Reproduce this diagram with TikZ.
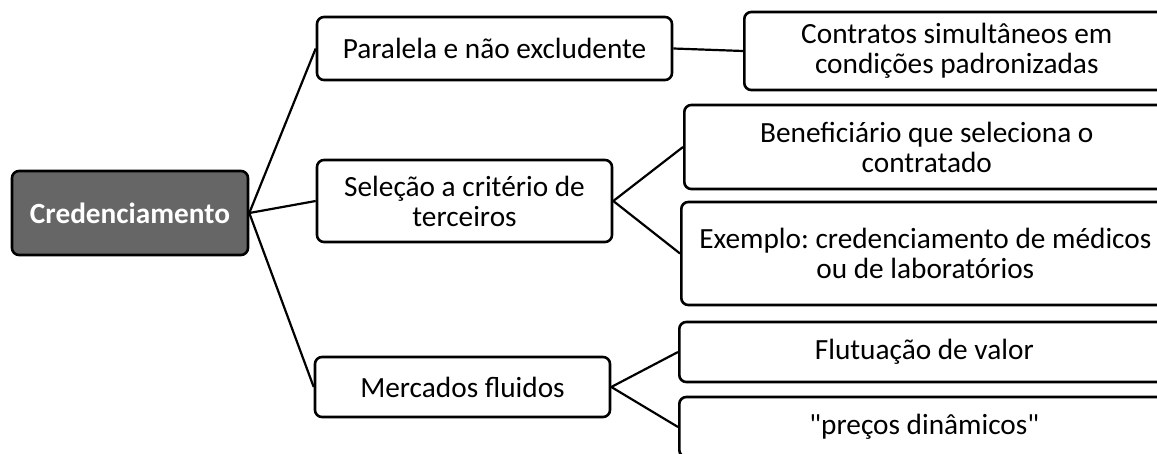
\documentclass[tikz,border=0pt]{standalone}
\usepackage{fontspec}
\setmainfont{Carlito}
\frenchspacing

\begin{document}
\begin{tikzpicture}[x=1pt,y=-1pt,line width=2.6pt,
  font=\fontsize{29.3}{30}\selectfont,
  box/.style={draw=black,rounded corners=7pt,fill=white,align=center,inner sep=0pt},
  rootbox/.style={box,fill=black!60,text=white,font=\fontsize{29.3}{30}\selectfont\bfseries},
  leaf/.style={box,anchor=west},
  link/.style={line width=2.2pt}]
% page = 1157 x 454 px, y grows downwards
\def\R{1168}% right edge of the cut boxes
\clip (0,0) rectangle (1157,454);
% ---------- root ----------
\node[rootbox,minimum width=236pt,minimum height=84pt] (cred) at (130,213) {Credenciamento};
% ---------- first level ----------
\node[box,minimum width=355pt,minimum height=63pt] (paral) at (494.5,48.5) {Paralela e não excludente};
\node[box,minimum width=295pt,minimum height=82pt] (selec) at (464.5,201) {Seleção a critério de\\terceiros};
\node[box,minimum width=295pt,minimum height=60pt] (merc) at (462.5,387) {Mercados fluidos};
% ---------- second level (cut by the right edge) ----------
\node[leaf,minimum width=\R pt-743pt,minimum height=78pt] (contr) at (743,51)
  {Contratos simultâneos em\\condições padronizadas};
\node[leaf,minimum width=\R pt-683pt,minimum height=84pt] (benef) at (683,147)
  {Beneficiário que seleciona o\\contratado};
\node[leaf,minimum width=\R pt-680pt,minimum height=103pt] (exemp) at (680,253.5)
  {Exemplo: credenciamento de médicos\\ou de laboratórios};
\node[leaf,minimum width=\R pt-678pt,minimum height=60pt] (flut) at (678,352) {Flutuação de valor};
\node[leaf,minimum width=\R pt-678pt,minimum height=60pt] (preco) at (678,427)
  {\textquotedbl preços dinâmicos\textquotedbl};
% ---------- connectors ----------
\draw[link] (cred.east) -- (paral.west);
\draw[link] (cred.east) -- (selec.west);
\draw[link] (cred.east) -- (merc.west);
\draw[link] (paral.east) -- (contr.west);
\draw[link] (selec.east) -- (benef.west);
\draw[link] (selec.east) -- (exemp.west);
\draw[link] (merc.east) -- (flut.west);
\draw[link] (merc.east) -- (preco.west);
\end{tikzpicture}
\end{document}
